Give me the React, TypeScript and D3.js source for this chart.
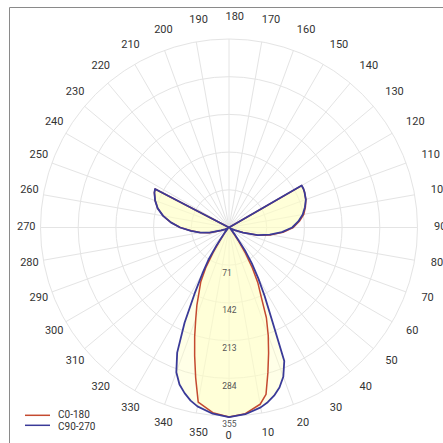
import React from "react";
import * as d3 from "d3";

const gammas = [0, 5, 10, 12.5, 15, 17.5, 20, 22.5, 25, 27.5, 30, 32.5, 35, 40, 45, 50, 55, 60, 65, 70, 75, 80, 85, 90, 95, 100, 105, 110, 115, 117.5, 120, 122.5, 125, 130, 140, 150, 160, 170, 180];

// C0-180: right half (C0) and left half (C180)
const c0 = [357, 352, 338, 322, 283, 248, 216, 184, 143, 118, 88, 58, 32, 10, 5, 4, 3, 5, 12, 28, 56, 80, 102, 121, 133, 143, 149, 154, 157, 158, 158, 0, 0, 0, 0, 0, 0, 0, 0];
const c180 = [357, 350, 334, 290, 250, 215, 183, 158, 133, 115, 88, 56, 30, 10, 5, 3, 3, 4, 8, 16, 38, 55, 72, 92, 110, 126, 139, 148, 155, 157, 0, 0, 0, 0, 0, 0, 0, 0, 0];
// C90-270: right half (C90) and left half (C270)
const c90 = [357, 353, 344, 337, 328, 316, 299, 272, 190, 145, 110, 80, 52, 15, 6, 4, 3, 5, 12, 28, 56, 78, 100, 119, 131, 141, 148, 154, 157, 158, 158, 0, 0, 0, 0, 0, 0, 0, 0];
const c270 = [357, 352, 342, 334, 323, 310, 290, 255, 198, 140, 100, 72, 40, 12, 5, 3, 3, 4, 8, 16, 38, 55, 72, 92, 110, 126, 139, 148, 155, 157, 0, 0, 0, 0, 0, 0, 0, 0, 0];

const radialTicks = [71, 142, 213, 284, 355];
const angleTicks = d3.range(0, 360, 10);
const seriesNames = ["C0-180", "C90-270"];
const seriesColors = ["#c44a30", "#3a3a98"];

const W = 443;
const H = 443;
const cx = 229;
const cy = 227.5;
const R = 188.5;

export default function App() {
  const r = d3.scaleLinear().domain([0, 355]).range([0, R]);
  const toRad = (deg: number) => (deg * Math.PI) / 180;

  const buildPoints = (right: number[], left: number[]) => {
    const pts: [number, number][] = [];
    gammas.forEach((g, i) => pts.push([Math.PI - toRad(g), r(right[i])]));
    for (let i = gammas.length - 1; i >= 0; i--) {
      pts.push([Math.PI + toRad(gammas[i]), r(left[i])]);
    }
    return pts;
  };

  const line = d3
    .lineRadial<[number, number]>()
    .angle((d) => d[0])
    .radius((d) => d[1])
    .curve(d3.curveLinearClosed);

  const curves = [buildPoints(c0, c180), buildPoints(c90, c270)];

  const pos = (deg: number, rad: number) => [cx + rad * Math.sin(toRad(deg)), cy + rad * Math.cos(toRad(deg))];

  return (
    <svg
      width={W}
      height={H}
      style={{ position: "absolute", left: 0, top: 0, display: "block", background: "#fff" }}
      fontFamily="Roboto, 'Noto Sans', sans-serif"
    >
      <line x1={9.5} y1={7.5} x2={W} y2={7.5} stroke="#8a8a8a" strokeWidth={1} />
      <line x1={9.5} y1={7.5} x2={9.5} y2={H} stroke="#8a8a8a" strokeWidth={1} />
      <g>
        {radialTicks.map((t) => (
          <circle key={t} cx={cx} cy={cy} r={r(t)} fill="none" stroke="#e4e4e4" strokeWidth={1} />
        ))}
        {angleTicks.map((a) => {
          const [x, y] = pos(a, R);
          return <line key={a} x1={cx} y1={cy} x2={x} y2={y} stroke="#e4e4e4" strokeWidth={1} />;
        })}
      </g>
      <g transform={`translate(${cx},${cy})`}>
        {curves.map((pts, i) => (
          <path key={"f" + i} d={line(pts) || ""} fill="#ffffc4" fillOpacity={0.4} stroke="none" />
        ))}
        {curves.map((pts, i) => (
          <path
            key={"s" + i}
            d={line(pts) || ""}
            fill="none"
            stroke={seriesColors[i]}
            strokeWidth={i === 0 ? 1.5 : 1.8}
            strokeLinejoin="round"
          />
        ))}
      </g>
      {radialTicks.map((t) => (
        <text key={t} x={222.3} y={cy + r(t) + 7.5} fontSize={8.5} fill="#555" textAnchor="start" dominantBaseline="central">
          {t}
        </text>
      ))}
      {angleTicks.map((a) => {
        const x = 225.5 + 208.5 * Math.sin(toRad(a));
        const y = 226 + 209.5 * Math.cos(toRad(a));
        return (
          <text key={a} x={x} y={y} fontSize={11} fill="#333" textAnchor="start" dominantBaseline="central">
            {a}
          </text>
        );
      })}
      <g>
        {seriesNames.map((n, i) => (
          <g key={n}>
            <line x1={25} x2={50} y1={415.3 + i * 10} y2={415.3 + i * 10} stroke={seriesColors[i]} strokeWidth={1.5} />
            <text x={58} y={414 + i * 12} fontSize={10} fill="#333" dominantBaseline="central">
              {n}
            </text>
          </g>
        ))}
      </g>
    </svg>
  );
}
